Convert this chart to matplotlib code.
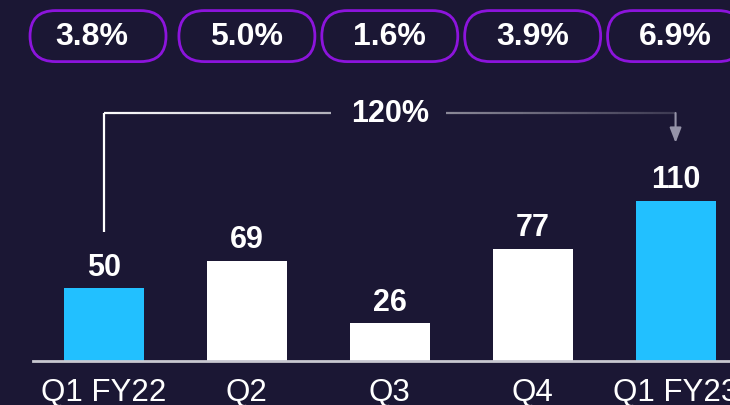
import matplotlib.pyplot as plt
import numpy as np
from matplotlib import transforms
from matplotlib.patches import FancyBboxPatch
from matplotlib.collections import LineCollection

plt.rcParams["font.family"] = ["Liberation Sans", "DejaVu Sans"]

# data
quarters = ["Q1 FY22", "Q2", "Q3", "Q4", "Q1 FY23"]
values = [50, 69, 26, 77, 110]
growth = ["3.8%", "5.0%", "1.6%", "3.9%", "6.9%"]
highlight = [True, False, False, False, True]
yoy_label = "120%"

BG = "#1b1734"
CYAN = "#22c0ff"
PURPLE = "#8c14dc"

fig = plt.figure(figsize=(7.3, 4.05), dpi=100, facecolor=BG)
ax = fig.add_axes([33 / 730, 44 / 405, 697 / 730, 361 / 405])
ax.set_facecolor(BG)

x = np.arange(len(quarters))
colors = [CYAN if h else "white" for h in highlight]
bars = ax.bar(x, values, width=0.56, color=colors, zorder=2)
ax.bar_label(bars, padding=4, color="white", fontsize=22, fontweight="bold")

ax.set_xlim(-0.497, 4.381)
ax.set_ylim(0, 248.2)
ax.set_xticks(x, quarters)
ax.tick_params(axis="x", length=0, pad=12, labelsize=22.5, labelcolor="white")
ax.set_yticks([])
for side in ["top", "left", "right"]:
    ax.spines[side].set_visible(False)
ax.spines["bottom"].set_color("#c8c8d0")
ax.spines["bottom"].set_linewidth(2)

# growth pills on top
blend = transforms.blended_transform_factory(ax.transData, ax.transAxes)
for i, g in enumerate(growth):
    dx = -0.06 if i == 0 else 0
    trans = fig.dpi_scale_trans + transforms.ScaledTranslation(i, 0.9, blend)
    pill = FancyBboxPatch((-0.68 + dx, -0.255), 1.36, 0.51,
                          boxstyle="round,pad=0,rounding_size=0.255",
                          transform=trans, facecolor=BG, edgecolor=PURPLE,
                          linewidth=2, clip_on=False, zorder=3)
    ax.add_artist(pill)
    ax.text(i + dx * 1.43, 0.898, g, transform=blend, ha="center", va="center",
            fontsize=23, fontweight="bold", color="white", zorder=4)

# growth bracket from first to last quarter
top_y = 170.5
ax.plot([0, 0], [values[0] + 38.7, top_y], color="white", lw=1.6,
        solid_capstyle="butt")
xs = np.linspace(0, x[-1], 200)
segs, cols = [], []
for a, b in zip(xs[:-1], xs[1:]):
    if 1.59 < (a + b) / 2 < 2.40:
        continue
    t = (a + b) / 2 / x[-1]
    segs.append([(a, top_y), (b, top_y)])
    cols.append((1, 1, 1, 1 - 0.85 * t))
ax.add_collection(LineCollection(segs, colors=cols, linewidths=1.6))
ax.text(2.0, top_y - 1, yoy_label, ha="center", va="center", fontsize=22,
        fontweight="bold", color="white")
ax.annotate("", xy=(x[-1], 150), xytext=(x[-1], top_y),
            arrowprops=dict(arrowstyle="-|>,head_width=0.35,head_length=0.9",
                            color="#9593a8", lw=1.5, shrinkA=0, shrinkB=0))

fig.savefig("out.png", dpi=100, facecolor=BG)
